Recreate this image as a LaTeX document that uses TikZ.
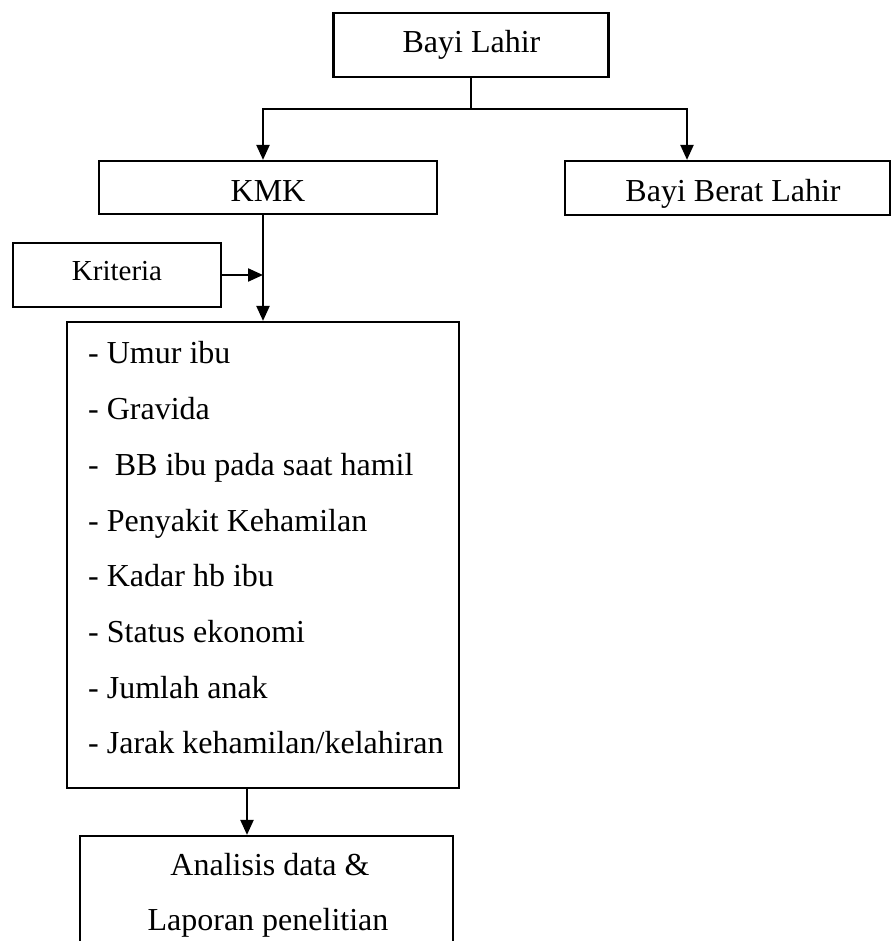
\documentclass[tikz,border=0pt]{standalone}
\usepackage{fontspec}
\setmainfont{Liberation Serif}
\usetikzlibrary{arrows.meta}
\begin{document}
\begin{tikzpicture}[x=1pt,y=-1pt,
  box/.style={draw=black,line width=2.2pt,rectangle,inner sep=0pt,fill=white},
  lbl/.style={anchor=base,inner sep=0pt,font=\fontsize{32}{38}\selectfont},
  lbls/.style={anchor=base,inner sep=0pt,font=\fontsize{29}{34}\selectfont},
  item/.style={anchor=base west,inner sep=0pt,font=\fontsize{32}{38}\selectfont},
  conn/.style={line width=2.2pt},
  arr/.style={conn,-{Triangle[length=15pt,width=13pt]}}]
\useasboundingbox (0,0) rectangle (892,941);
\clip (0,0) rectangle (892,941);
\fill[white] (0,0) rectangle (892,941);

% boxes
\node[box,minimum width=275,minimum height=64] (lahir) at (471,45) {};
\node[box,minimum width=338,minimum height=53] (kmk) at (268,187.5) {};
\node[box,minimum width=325,minimum height=54] (bbl) at (727.5,188) {};
\node[box,minimum width=208,minimum height=64] (krit) at (117,275) {};
\node[box,minimum width=392,minimum height=466] (list) at (263,555) {};
\node[box,minimum width=373,minimum height=140] (anal) at (266.5,906) {};

% texts
\node[lbl] (tlahir) at (471.5,53) {Bayi Lahir};
\node[lbl] (tkmk) at (268,202) {KMK};
\node[lbl] (tbbl) at (733,202) {Bayi Berat Lahir};
\node[lbls] (tkrit) at (117,280) {Kriteria};
\node[item] (i1) at (88,363) {- Umur ibu};
\node[item] (i2) at (88,419) {- Gravida};
\node[item] (i3) at (88,475) {-~~BB ibu pada saat hamil};
\node[item] (i4) at (88,531) {- Penyakit Kehamilan};
\node[item] (i5) at (88,586) {- Kadar hb ibu};
\node[item] (i6) at (88,642) {- Status ekonomi};
\node[item] (i7) at (88,698) {- Jumlah anak};
\node[item] (i8) at (88,753) {- Jarak kehamilan/kelahiran};
\node[lbl] (ta1) at (270,875) {Analisis data \&};
\node[lbl] (ta2) at (268,930) {Laporan penelitian};

% connectors
\coordinate (split) at (471,109);
\draw[conn] (lahir.south) -- (split);
\draw[arr] (split) -| ([xshift=-5]kmk.north);
\draw[arr] (split) -| ([xshift=-40.5]bbl.north);
\coordinate (join) at (263,275);
\draw[arr] ([xshift=-5]kmk.south) -- (list.north);
\draw[arr] (krit.east) -- (join);
\draw[arr] ([xshift=-16]list.south) -- ([xshift=-19.5]anal.north);
\end{tikzpicture}
\end{document}
